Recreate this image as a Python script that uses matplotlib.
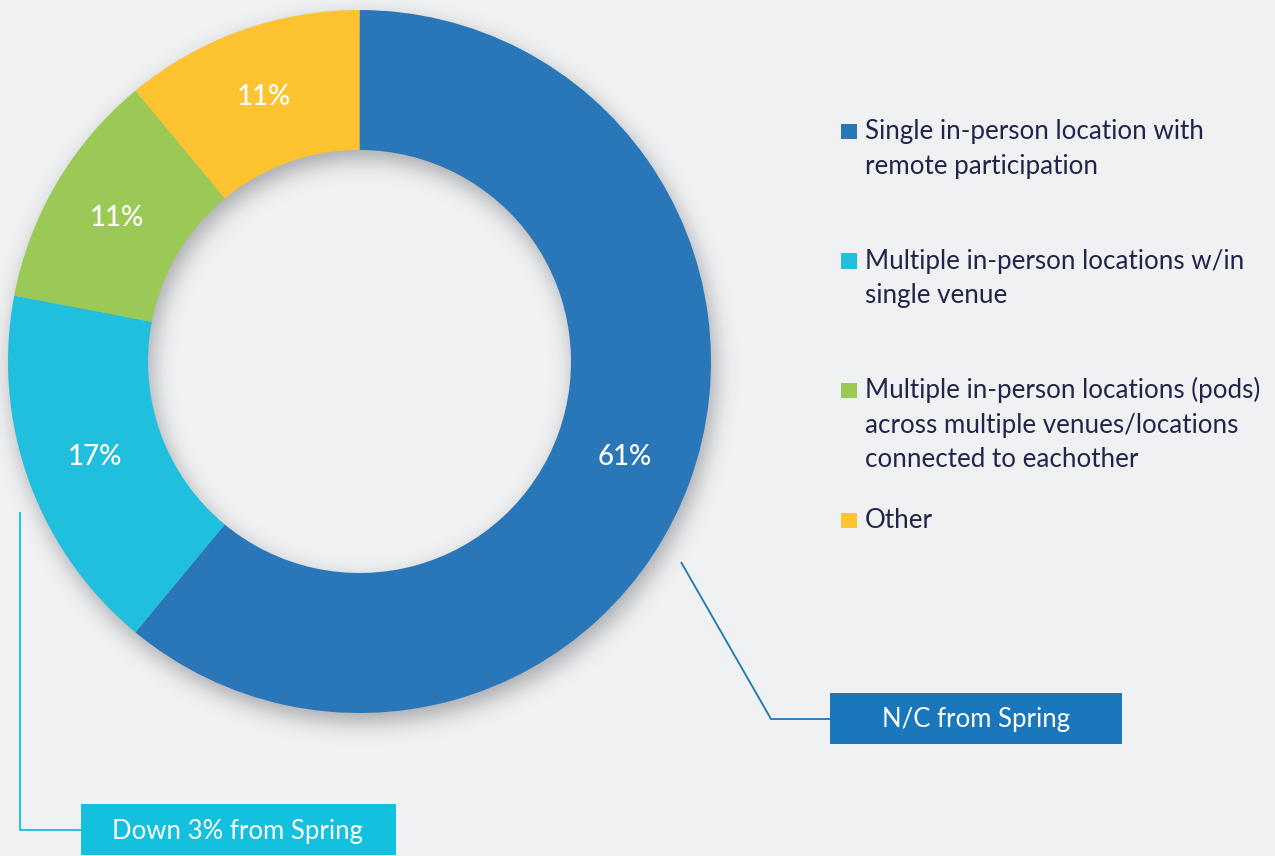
import numpy as np
import matplotlib
matplotlib.use("Agg")
import matplotlib.pyplot as plt
from matplotlib.patches import Rectangle
from matplotlib import font_manager

# ---- data -------------------------------------------------------------
categories = [
    "Single in-person location with\nremote participation",
    "Multiple in-person locations w/in\nsingle venue",
    "Multiple in-person locations (pods)\nacross multiple venues/locations\nconnected to eachother",
    "Other",
]
shares = [61, 17, 11, 11]
colors = ["#2976b8", "#20bfdd", "#9bc955", "#fdc330"]
callout_texts = ["N/C from Spring", "Down 3% from Spring"]
callout_colors = ["#1a77bb", "#13c0de"]

# ---- canvas (axes use pixel units, y pointing up) ---------------------
W, H = 1275, 856
BG = "#f0f1f3"
TEXT = "#22244a"

available = {f.name for f in font_manager.fontManager.ttflist}
FONT = "Lato" if "Lato" in available else "DejaVu Sans"

fig = plt.figure(figsize=(W / 100, H / 100), dpi=100, facecolor=BG)
ax = fig.add_axes([0, 0, 1, 1])
ax.set_facecolor(BG)

cx, cy_img = 359.5, 361.5
R_out, R_in = 351.5, 211.5

# ---- soft drop shadow under the ring ---------------------------------
def gauss_blur(a, sigma):
    rad = int(3 * sigma)
    t = np.arange(-rad, rad + 1)
    k = np.exp(-0.5 * (t / sigma) ** 2)
    k /= k.sum()
    a = np.apply_along_axis(lambda m: np.convolve(m, k, mode="same"), 1, a)
    a = np.apply_along_axis(lambda m: np.convolve(m, k, mode="same"), 0, a)
    return a

yy, xx = np.mgrid[0:H, 0:W]
sx, sy = cx + 4, cy_img + 9
rr = np.hypot(xx + 0.5 - sx, yy + 0.5 - sy)
ring = ((rr <= R_out) & (rr >= R_in)).astype(float)
shade = gauss_blur(ring, 11)
rgba = np.zeros((H, W, 4))
rgba[..., 0] = 0.25
rgba[..., 1] = 0.26
rgba[..., 2] = 0.28
rgba[..., 3] = 0.42 * shade
ax.imshow(rgba, extent=(0, W, 0, H), origin="upper", zorder=0, interpolation="bilinear")

# ---- donut ------------------------------------------------------------
wedges, _, pct_texts = ax.pie(
    shares,
    colors=colors,
    startangle=90,
    counterclock=False,
    radius=R_out,
    center=(cx, H - cy_img),
    wedgeprops=dict(width=R_out - R_in, linewidth=0),
    autopct=lambda p: f"{p:.0f}%",
    pctdistance=(R_out + R_in) / 2 / R_out,
    textprops=dict(color="white", fontsize=20, family=FONT, weight="medium"),
    frame=False,
)
for w in wedges:
    w.set_zorder(2)
for t in pct_texts:
    t.set_zorder(3)

# ---- legend -----------------------------------------------------------
leg_x_box, leg_x_text = 841, 865
first_baseline, item_step, line_step = 139, 129.7, 34.5
for i, (label, col) in enumerate(zip(categories, colors)):
    base = first_baseline + i * item_step
    ax.add_patch(Rectangle((leg_x_box, H - base), 15.5, 15.5, color=col, lw=0, zorder=3))
    for j, line in enumerate(label.split("\n")):
        ax.text(leg_x_text, H - (base + j * line_step), line, color=TEXT,
                fontsize=18.7, family=FONT, ha="left", va="baseline", zorder=3)

# ---- callouts ---------------------------------------------------------
# N/C box linked to the large segment
ax.plot([681, 771, 830], [H - 562, H - 719, H - 719], color=callout_colors[0], lw=1.3,
        solid_capstyle="butt", zorder=3)
ax.add_patch(Rectangle((830, H - 744), 292, 51, color=callout_colors[0], lw=0, zorder=3))
ax.text(976, H - 720, callout_texts[0], color="white", fontsize=18.5, family=FONT,
        weight="normal", ha="center", va="center", zorder=4)

# Down 3% box linked to the second segment
ax.plot([20, 20, 81], [H - 512, H - 830, H - 830], color=callout_colors[1], lw=1.3,
        solid_capstyle="butt", zorder=3)
ax.add_patch(Rectangle((81, H - 855), 315, 51, color=callout_colors[1], lw=0, zorder=3))
ax.text(238, H - 831, callout_texts[1], color="white", fontsize=18.5, family=FONT,
        weight="normal", ha="center", va="center", zorder=4)

ax.set_xlim(0, W)
ax.set_ylim(0, H)
ax.set_aspect("auto")
ax.axis("off")

fig.savefig("out.png", dpi=100, facecolor=BG)
